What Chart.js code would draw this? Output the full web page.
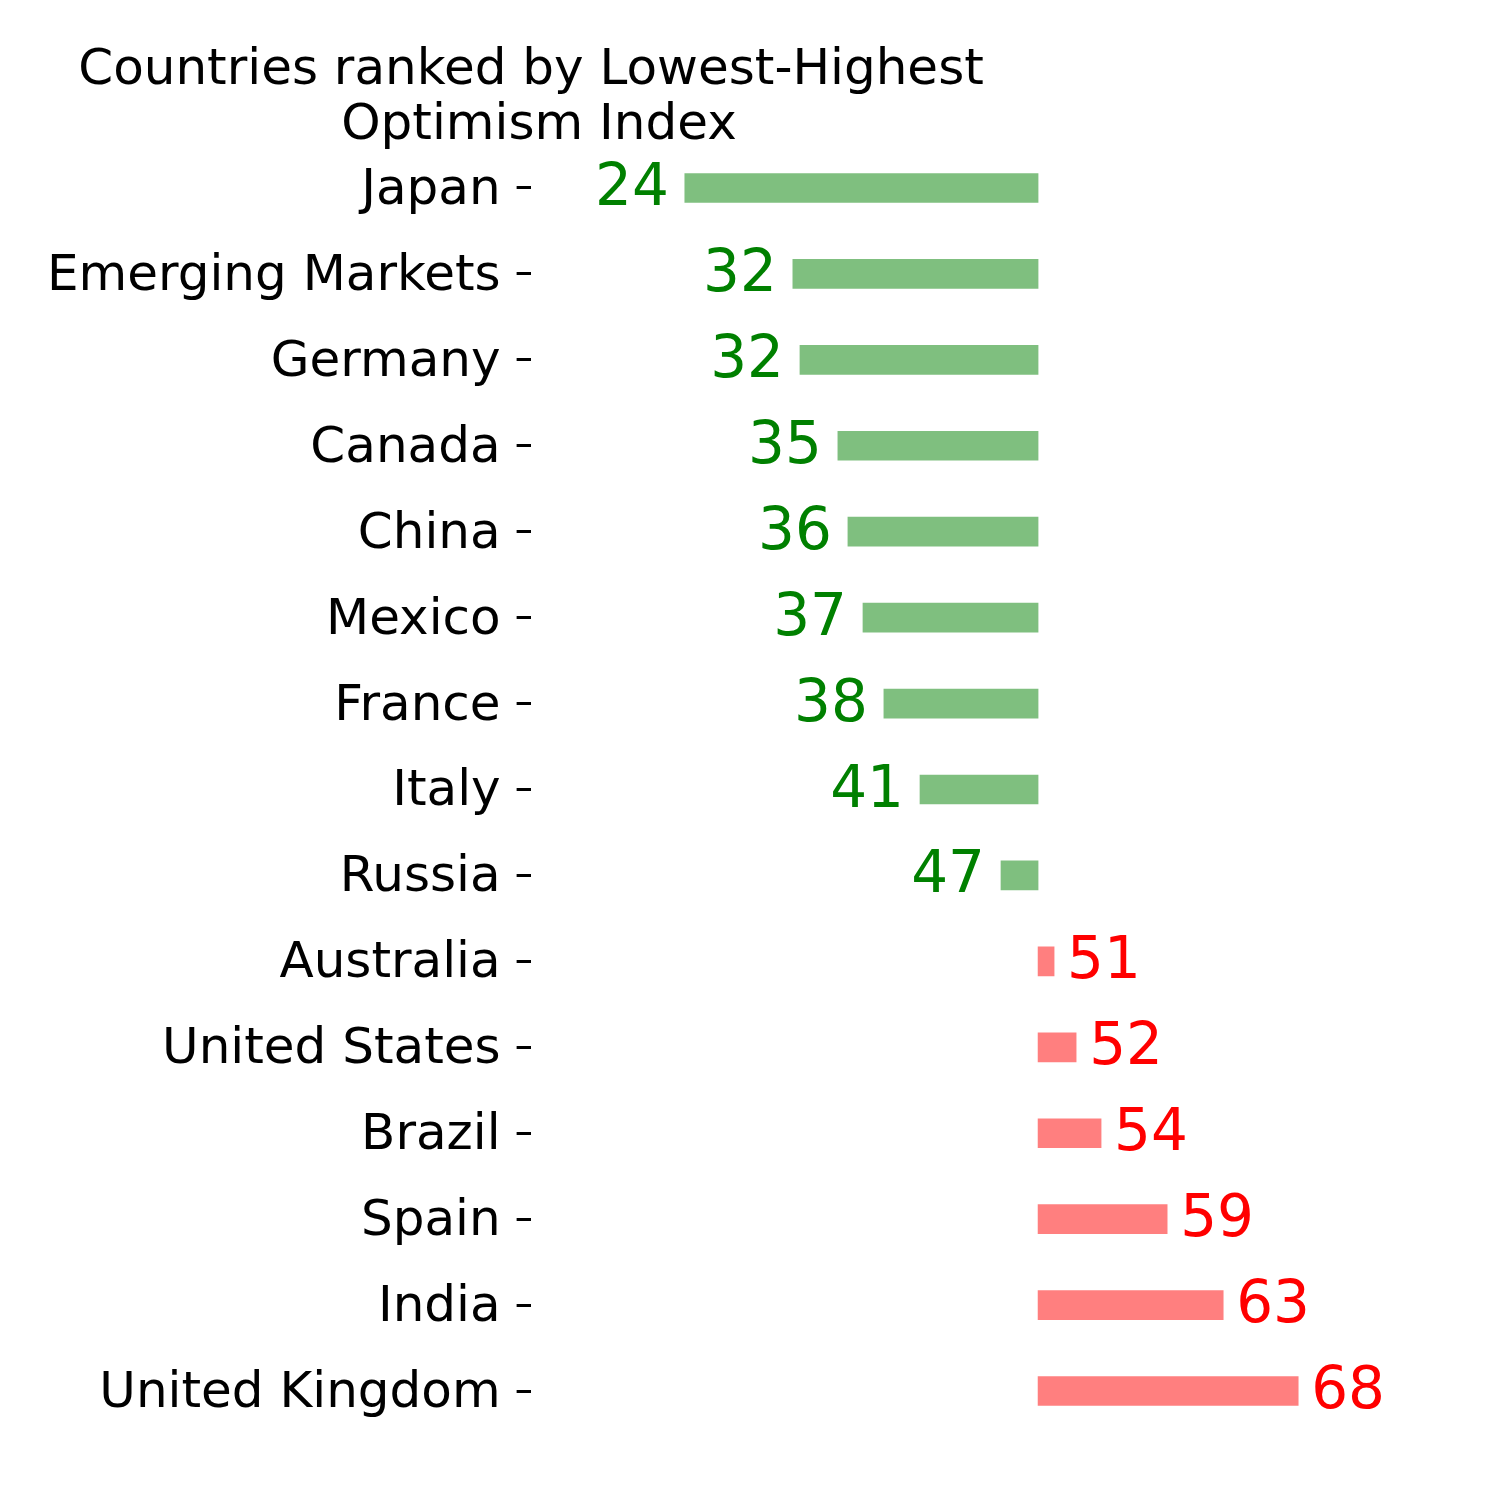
<!DOCTYPE html>
<html>
<head>
<meta charset="utf-8">
<script src="https://cdn.jsdelivr.net/npm/chart.js@4.4.1/dist/chart.umd.min.js"></script>
<style>
  body { margin: 0; background: #fff; }
</style>
</head>
<body>
<canvas id="optimism" width="1500" height="1500"></canvas>
<script>
const countries = ['Japan', 'Emerging Markets', 'Germany', 'Canada', 'China', 'Mexico', 'France',
  'Italy', 'Russia', 'Australia', 'United States', 'Brazil', 'Spain', 'India', 'United Kingdom'];
const optimism = [24.66, 32.41, 32.92, 35.64, 36.36, 37.44, 38.94,
  41.53, 47.34, 51.15, 52.73, 54.52, 59.26, 63.28, 68.66];
const midpoint = 50;
const titleLines = ['Countries ranked by Lowest-Highest', 'Optimism Index'];

const FONT = '"DejaVu Sans", sans-serif';

// value labels next to each bar, green on the low side, red on the high side
const valueLabels = {
  id: 'valueLabels',
  afterDatasetsDraw(chart) {
    const ctx = chart.ctx;
    const meta = chart.getDatasetMeta(0);
    const x = chart.scales.x;
    ctx.save();
    ctx.font = '58px ' + FONT;
    ctx.textBaseline = 'alphabetic';
    meta.data.forEach((bar, i) => {
      const v = optimism[i];
      const txt = String(Math.floor(v));
      const px = x.getPixelForValue(v);
      if (v < midpoint) {
        ctx.fillStyle = '#008000';
        ctx.textAlign = 'right';
        ctx.fillText(txt, px - 16, bar.y + 17);
      } else {
        ctx.fillStyle = '#ff0000';
        ctx.textAlign = 'left';
        ctx.fillText(txt, px + 13, bar.y + 17);
      }
    });
    ctx.restore();
  }
};

// two-line title, centred like the original
const titlePlugin = {
  id: 'twoLineTitle',
  afterDraw(chart) {
    const ctx = chart.ctx;
    ctx.save();
    ctx.font = '50px ' + FONT;
    ctx.fillStyle = '#000';
    ctx.textAlign = 'center';
    ctx.textBaseline = 'alphabetic';
    ctx.fillText(titleLines[0], 531, 84);
    ctx.fillText(titleLines[1], 539, 139);
    ctx.restore();
  }
};

new Chart(document.getElementById('optimism'), {
  type: 'bar',
  data: {
    labels: countries,
    datasets: [{
      data: optimism.map(v => [midpoint, v]),
      backgroundColor: optimism.map(v => v < midpoint ? 'rgba(0, 128, 0, 0.5)' : 'rgba(255, 0, 0, 0.5)'),
      borderWidth: 0,
      barThickness: 29
    }]
  },
  options: {
    indexAxis: 'y',
    responsive: false,
    animation: false,
    layout: {
      padding: { left: 31, right: 20, top: 145, bottom: 66 }
    },
    scales: {
      x: {
        display: false,
        min: 13.6,
        max: 81.7
      },
      y: {
        border: { display: false },
        grid: {
          drawOnChartArea: false,
          drawTicks: true,
          tickLength: 14,
          tickWidth: 3,
          tickColor: '#000',
          offset: false
        },
        ticks: {
          color: '#000',
          padding: 16,
          labelOffset: 3,
          font: { family: FONT, size: 50 }
        }
      }
    },
    plugins: {
      legend: { display: false },
      title: { display: false },
      tooltip: { enabled: false }
    }
  },
  plugins: [valueLabels, titlePlugin]
});
</script>
</body>
</html>
